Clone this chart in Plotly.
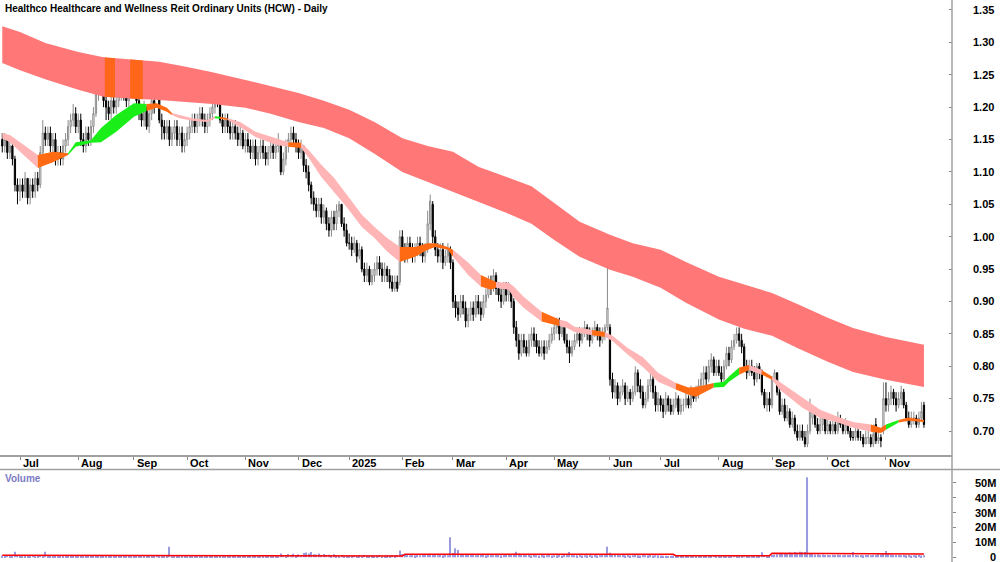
import numpy as np
import pandas as pd
import plotly.graph_objects as go

TITLE = "Healthco Healthcare and Wellness Reit Ordinary Units (HCW) - Daily"
HOLIDAYS = ["2024-12-25", "2024-12-26", "2025-01-01", "2025-01-27",
            "2025-04-18", "2025-04-21", "2025-04-25", "2025-06-09"]
days = pd.bdate_range("2024-06-20", "2025-11-24")
days = days[~days.isin(pd.to_datetime(HOLIDAYS))]

# ---- daily prices in cents ----
OPEN = [
    115,114,115,113,114,112,108,  # Jun 24
    107,108,107,109,106,108,107,109,108,113,116,115,116,114,115,112,113,112,114,115,117,118,119,  # Jul
    117,118,115,114,116,115,117,119,122,124,123,121,120,119,121,120,121,122,123,122,121,123,  # Aug
    123,124,121,119,118,120,117,119,121,124.5,122,118,117,116,117,115,116,117,115,116,114,  # Sep
    115,116,117,118,117,118,119,118,117,118,119,120,122,121,118,117,118,117,116,117,116,115,116,  # Oct
    114,115,114,113,114,112,113,114,113,112,113,114,113,114,114,110,112,114,115,116,115,  # Nov
    114,113,114,111,110,108,106,105,104,105,103,104,102,101,103,102,104,105,102,101,  # Dec
    99,99,98,99,97,98,95,94,95,93,94,95,96,95,94,95,94,93,92,93,93,  # Jan 25
    100,98,97,99,98,97,98,99,98,97,98,102,105,100,98,97,98,96,97,98,  # Feb
    96,90,89,88,90,89,87,88,89,88,90,89,88,90,91,93,92,94,92,91,90,  # Mar
    92,91,92,90,86,84,82,84,83,82,84,85,84,83,82,83,82,83,84,  # Apr
    85,86,87,85,86,84,83,82,83,84,85,84,85,86,85,84,85,86,85,84,85,86,  # May
    86,78,76,77,75,76,77,75,76,75,76,79,77,76,74,75,77,78,76,74,  # Jun
    75,74,73,75,74,73,74,75,73,74,74,75,74,76,75,76,77,78,79,78,80,81,79,  # Jul
    80,79,78,80,82,81,83,84,85,84,83,80,79,80,79,78,80,79,76,74,75,  # Aug
    74,78,79,76,73,74,72,73,71,72,70,69,70,69,68,70,72,73,71,70,71,72,  # Sep
    70,71,70,71,70,72,71,70,71,70,69,69,70,69,69,68,69,69,68,71,68.5,69,70,  # Oct
    75,74,75,76,75,74,75,76,74,72,71,72,72,71,72,74,  # Nov
]
HIGH = [
    116,116,115,115,115,112.5,109,
    109,109,110,109,109,109,110,110,114,118,117,117,117,116,116,114,114,115,116,118,119,120.5,120,
    119,119,116,117,117,118,120,123,126,125,124,122,121,122,122,122,123,124,124,123,124,125,
    125,124.5,122,120,121,120,120,122,122,126.5,122.5,119,118,118,118,117,118,118,117,117,116,
    117,118,119,119,119,120,120,119,119,120,121,123,123,121.5,119,119,119,118,118,118,117,117,116.5,
    116,116,115,115,115,114,115,115,114,114,115,115,115,116,114.5,113,115,116,117,117,116,
    115,115,114,112,111,108.5,107,106,106,106,105,104.5,103,104,104,105,105.5,105,103,102,
    100.5,100,100,99.5,99,98.5,96,96,95.5,95,96,97,97,96,96,95.5,95,94,94,94,101,
    101,99,100,100,99,99,100,100,99,99,104,106.5,105.5,101,99,99,99,98,99,98.5,
    96.5,91,90,91,91,90,89,90,90,91,91,90,91,92,94,94,95,94.5,93,92,93,
    93,93,92.5,90.5,87,85,85,85,84,85,86,86,85,84,84,84,84,85,86,
    87,87.5,87.5,87,86.5,85,84,84,85,86,86,86,87,86.5,86,86,87,86.5,86,86,86.5,96.5,
    86.5,79,78,77.5,77,78,77.5,77,76.5,77,80,79.5,78,77,76,78,79,78.5,77,76,
    75.5,75,76,75.5,75,75,76,75.5,75,75,76,75.5,77,76.5,77,78,79,80,80,81,82,81.5,81,
    81,80,81,83,83,84,85,86,86,85,83.5,81,81,81,80,80.5,80.5,79.5,76.5,76,76,
    78.5,79.5,79,76.5,75,75,74,73.5,73,72.5,71,71,71,70,71,75,74,73.5,72,72,73,72.5,
    72,71.5,72,71.5,73,72.5,71.5,72,71.5,70.5,70,71,70.5,70,69.5,70,70,69.5,71,72,70,69.5,77.5,
    77.5,76,77,76.5,76,76,77,76.5,74.5,73,73,73,72.5,73,74.5,74.5,
]
LOW = [
    113,113,112,112,111,107,105,
    105.5,106,106,105,105,106,106,107,107.5,112,114,114,113,113,111,111,111,111,113,114,116,117,116,
    116,114,113,113,114,114,116,118.5,121,122,120,118,118,118,119,119,120,121,121,120,120,122,
    122,120,118,117,117,116.5,116,118,119,123,117.5,115,115,115,114,114,115,114,114,113,113,
    114,115,116,116,116,117,117,116,116,117,118,119,120,117.5,116,116,116,115,115,115,114,114,113.5,
    113,113,112,112,111,111,112,112,111,111,112,112,112,113,109.5,109.5,111,113,114,114,113,
    112,112,110,109,107,105,104,103,103,102,102,101,100,100,101,101,103,101.5,100,98.5,
    98,97,97.5,96,96.5,94.5,93,93,92.5,92.5,93,94,94,93,93,93,92,91.5,91.5,91.5,92.5,
    97,96,96,97,96,96,97,97,96,96,97.5,101,99,97,96,96,95,95.5,96,95,
    89,87.5,87,87.5,88,86,86,87,87,87.5,88,87,87.5,89,90.5,91,91.5,91,90,89,89.5,
    90,90,89,85,83,81,81.5,82,81.5,81.5,83,83,82,81.5,81.5,81,82,82.5,83.5,
    84,85,84,84.5,83.5,82,80.5,81.5,82.5,83.5,83,83.5,84.5,84,83,83.5,84.5,84,83,83.5,84,85.5,
    77,75,75,74,74.5,75.5,74,74.5,74,74.5,75.5,76,75,73.5,73.5,74.5,76,75,73,73,
    73,72,72.5,73,72.5,72.5,73.5,72.5,72.5,73,73.5,73.5,73.5,74.5,74.5,75,76,77,77,77.5,79,78.5,78.5,
    78.5,77,77.5,79.5,80,80.5,82.5,83.5,83,82,79.5,78,78.5,78.5,77,77.5,78,75.5,73.5,73,73,
    73.5,77.5,75.5,72.5,72.5,71.5,71.5,70.5,70.5,69.5,68.5,68.5,68.5,67.5,67.5,69.5,71,70.5,69.5,69.5,70,69.5,
    69.5,69.5,69.5,69.5,69.5,70.5,69.5,69.5,69.5,68.5,68.5,68.5,68.5,68.5,67.5,68,68,67.5,67.5,68,68,67.5,69.5,
    73,73,74,74,73,73.5,74,73.5,71.5,70.5,70.5,71,70.5,70.5,71.5,70.5,
]
CLOSE = [
    114,115,113,114,112,108,107,
    108,107,109,106,108,107,109,108,113,116,115,116,114,115,112,113,112,114,115,117,118,119,117,
    118,115,114,116,115,117,119,122,124,123,121,120,119,121,120,121,122,123,122,121,123,124,
    124,121,119,118,120,117,119,121,120,123.5,118,117,116,117,115,116,117,115,116,114,115,
    116,117,118,117,118,119,118,117,118,119,120,122,121,118,117,118,117,116,117,116,115,116,114,
    115,114,113,114,112,113,114,113,112,113,114,113,114,115,110,112,114,115,116,115,114,
    113,114,111,110,108,106,105,104,105,103,104,102,101,103,102,104,105,102,101,99,
    99,98,99,97,98,95,94,95,93,94,95,96,95,94,95,94,93,92,93,92,100,
    98,97,99,98,97,98,99,98,97,98,102,105.5,100,98,97,98,96,97,98,96,
    90,89,88,90,89,87,88,89,88,90,89,88,90,91,93,92,94,92,91,90,92,
    91,92,90,86,84,82,84,83,82,84,85,84,83,82,83,82,83,84,85,
    86,87,85,86,84,83,82,83,84,85,84,85,86,85,84,85,86,85,84,85,86,89,
    78,76,77,75,76,77,75,76,75,76,79,77,76,74,75,77,78,76,74,75,
    74,73,75,74,73,74,75,73,74,74,75,74,76,75,76,77,78,79,78,80,81,79,80,
    79,78,80,82,81,83,84,85,84,83,80,79,80,79,78,80,79,76,74,75,74,
    78,79,76,73,74,72,73,71,72,70,69,70,69,68,70,73,73,71,70,71,72,70,
    71,70,71,70,72,71,70,71,70,69,69,70,69,69,68,69,69,68,69.5,68.5,69,68.5,75,
    74,75,76,75,74,75,76,74,72,71,72,72,71,72,73,71,
]
# ---- daily volume, millions ----
VOLUME = [
    1.2,0.9,1.4,1.0,1.1,3.8,1.5,
    1.3,1.0,1.2,0.9,1.1,1.4,1.0,1.2,1.6,1.3,3.8,1.0,1.2,0.9,1.1,1.3,1.0,1.2,1.2,1.1,0.9,1.0,1.3,
    0.8,1.0,0.9,1.1,0.8,0.9,1.2,1.0,0.8,0.9,1.1,0.7,0.9,1.0,0.8,1.2,0.9,1.0,0.8,1.1,0.9,1.0,
    1.0,0.9,1.2,0.8,1.0,1.1,0.9,1.3,1.0,1.4,1.2,0.9,1.1,1.0,7.1,1.3,1.0,0.9,1.1,0.8,1.0,
    1.1,0.9,1.0,1.2,0.8,1.0,0.9,1.1,1.0,0.8,1.2,1.3,1.0,1.1,0.9,1.0,0.8,1.1,0.9,1.0,1.2,0.9,1.0,
    1.0,1.2,0.9,1.1,1.3,1.0,0.9,1.1,1.0,1.2,0.9,1.0,1.1,1.3,2.6,1.4,1.2,2.2,1.5,2.4,1.3,
    2.0,1.6,2.8,3.2,2.5,3.5,2.1,1.8,2.6,1.4,2.2,1.5,1.7,1.3,2.0,1.2,1.0,1.6,1.3,1.1,
    1.2,1.0,1.4,1.1,1.3,1.0,1.5,1.2,1.1,1.3,1.0,1.2,1.4,1.1,1.0,1.3,1.2,1.5,1.3,1.6,4.5,
    2.2,1.5,1.8,1.4,1.6,1.3,1.5,1.4,1.7,1.5,2.0,2.4,1.9,1.6,1.4,1.5,1.3,1.6,1.4,13.4,
    2.8,6.0,4.9,2.0,1.6,1.8,1.5,2.2,1.7,1.4,1.6,1.9,1.5,1.3,1.8,1.6,1.4,1.7,1.5,1.3,1.6,
    1.5,1.7,1.9,2.4,3.8,2.6,1.8,1.6,1.4,1.5,1.3,1.6,1.4,1.2,1.5,1.3,1.4,1.6,1.2,
    1.4,1.3,1.6,1.2,1.5,1.8,3.6,1.7,1.4,1.3,1.5,1.2,1.4,1.3,1.6,1.2,1.5,1.3,1.4,1.6,1.8,7.1,
    3.0,2.2,1.8,1.5,1.4,1.6,1.3,1.5,1.2,1.4,1.7,1.3,1.2,1.5,1.4,1.3,1.6,1.2,1.4,1.3,
    1.2,1.0,1.1,0.9,1.0,1.2,0.8,1.1,0.9,1.0,1.1,0.9,1.2,1.0,0.8,1.1,1.3,1.0,1.2,0.9,1.1,1.4,1.0,
    1.1,0.9,1.2,1.3,1.0,1.1,1.5,1.2,1.0,1.3,1.6,1.2,1.1,1.0,1.2,0.9,1.1,3.4,1.6,1.3,1.2,
    1.6,1.8,2.0,2.2,2.7,2.4,2.9,3.2,2.8,3.5,3.0,3.8,3.3,3.6,53.6,2.7,2.2,1.9,2.0,1.7,1.8,1.5,
    1.6,1.4,1.7,1.5,1.8,1.6,1.4,1.7,1.5,1.6,3.6,1.5,1.4,1.6,1.3,1.5,1.7,1.4,1.6,1.5,2.0,1.8,2.6,
    4.2,2.4,1.8,1.6,1.5,1.7,1.4,1.6,1.3,1.5,1.2,1.4,1.3,1.5,1.2,1.4,
]
VOLMA_DATES = ["2024-06-20", "2024-08-01", "2024-08-02", "2025-02-03", "2025-02-04", "2025-07-08",
               "2025-07-09", "2025-08-29", "2025-09-01", "2025-11-12", "2025-11-13", "2025-11-24"]
VOLMA = [1.3, 1.3, 0.9, 0.9, 2.0, 2.0, 1.1, 1.1, 2.7, 2.7, 2.2, 2.2]

# ---- long-term band (upper / lower) ----
LONG_DATES = ["2024-06-20", "2024-07-01", "2024-07-15", "2024-08-01", "2024-08-15", "2024-09-02",
              "2024-09-16", "2024-10-01", "2024-10-15", "2024-11-01", "2024-11-15", "2024-12-02",
              "2024-12-16", "2025-01-02", "2025-01-16", "2025-02-03", "2025-02-17", "2025-03-03",
              "2025-03-17", "2025-04-01", "2025-04-15", "2025-05-01", "2025-05-15", "2025-06-02",
              "2025-06-16", "2025-07-01", "2025-07-15", "2025-08-01", "2025-08-15", "2025-09-01",
              "2025-09-15", "2025-10-01", "2025-10-15", "2025-11-03", "2025-11-24"]
LONG_UPPER = [1.325, 1.316, 1.299, 1.285, 1.277, 1.273, 1.270, 1.262, 1.254, 1.242, 1.233, 1.222,
              1.210, 1.196, 1.177, 1.152, 1.140, 1.131, 1.108, 1.092, 1.078, 1.052, 1.023, 1.003,
              0.990, 0.980, 0.961, 0.938, 0.926, 0.913, 0.896, 0.875, 0.859, 0.845, 0.833]
LONG_LOWER = [1.268, 1.257, 1.243, 1.227, 1.216, 1.213, 1.211, 1.208, 1.205, 1.199, 1.190, 1.177,
              1.168, 1.152, 1.128, 1.100, 1.085, 1.070, 1.054, 1.037, 1.020, 0.995, 0.969, 0.949,
              0.938, 0.921, 0.898, 0.872, 0.858, 0.847, 0.828, 0.807, 0.791, 0.779, 0.768]
LONG_HILITE = [("2024-08-16", "2024-08-21"), ("2024-08-30", "2024-09-05")]

# ---- short-term band (upper / lower / colour of following stretch) ----
SHORT_DATES = [
    "2024-06-20", "2024-06-25", "2024-07-01", "2024-07-10", "2024-07-18", "2024-07-26", "2024-07-31",
    "2024-08-08", "2024-08-14", "2024-08-22", "2024-09-02", "2024-09-09", "2024-09-13", "2024-09-19",
    "2024-09-23", "2024-09-26", "2024-10-03", "2024-10-11", "2024-10-16", "2024-10-18", "2024-10-23",
    "2024-10-30", "2024-11-07", "2024-11-19", "2024-11-26", "2024-12-03", "2024-12-06", "2024-12-13",
    "2024-12-20", "2024-12-31", "2025-01-09", "2025-01-16", "2025-01-23", "2025-01-31", "2025-02-10",
    "2025-02-17", "2025-02-20", "2025-02-27", "2025-03-03", "2025-03-11", "2025-03-18", "2025-03-24",
    "2025-03-26", "2025-04-02", "2025-04-04", "2025-04-10", "2025-04-23", "2025-05-05", "2025-05-08",
    "2025-05-13", "2025-05-22", "2025-05-29", "2025-06-03", "2025-06-12", "2025-06-20", "2025-06-30",
    "2025-07-09", "2025-07-16", "2025-07-21", "2025-07-30", "2025-08-05", "2025-08-07", "2025-08-13",
    "2025-08-19", "2025-08-26", "2025-09-01", "2025-09-04", "2025-09-17", "2025-09-26", "2025-10-07",
    "2025-10-15", "2025-10-24", "2025-10-30", "2025-11-03", "2025-11-10", "2025-11-14", "2025-11-24"]
SHORT_UPPER = [
    1.160, 1.157, 1.146, 1.126, 1.131, 1.129, 1.146, 1.149, 1.168, 1.188, 1.206, 1.205, 1.206, 1.199,
    1.191, 1.188, 1.183, 1.180, 1.186, 1.185, 1.183, 1.177, 1.162, 1.152, 1.146, 1.145, 1.134, 1.111,
    1.091, 1.065, 1.034, 1.015, 0.998, 0.984, 0.984, 0.990, 0.990, 0.984, 0.980, 0.960, 0.941, 0.933,
    0.930, 0.929, 0.923, 0.907, 0.884, 0.872, 0.869, 0.861, 0.856, 0.853, 0.847, 0.828, 0.814, 0.790,
    0.774, 0.767, 0.768, 0.774, 0.776, 0.784, 0.798, 0.802, 0.794, 0.784, 0.776, 0.751, 0.733, 0.722,
    0.714, 0.710, 0.705, 0.710, 0.717, 0.721, 0.717]
SHORT_LOWER = [
    1.152, 1.146, 1.131, 1.106, 1.115, 1.126, 1.139, 1.145, 1.146, 1.162, 1.185, 1.194, 1.199, 1.193,
    1.188, 1.183, 1.179, 1.177, 1.183, 1.182, 1.180, 1.169, 1.154, 1.142, 1.139, 1.137, 1.122, 1.092,
    1.069, 1.046, 1.015, 0.998, 0.977, 0.961, 0.969, 0.980, 0.984, 0.980, 0.969, 0.941, 0.923, 0.918,
    0.921, 0.918, 0.906, 0.890, 0.869, 0.862, 0.859, 0.853, 0.848, 0.845, 0.839, 0.818, 0.799, 0.776,
    0.764, 0.756, 0.753, 0.767, 0.768, 0.776, 0.787, 0.794, 0.787, 0.779, 0.764, 0.736, 0.720, 0.713,
    0.705, 0.699, 0.697, 0.702, 0.713, 0.716, 0.714]
SHORT_STATE = list(
    "PPPOOGGGGGGOOOPPPPGOPPPPOPPPPPPPPOOOOOPPOOPPPPOPPPOPPPPPOOOGGGOPOPPPPPPOOGOO")

MONTH_LABELS = ["Jul", "Aug", "Sep", "Oct", "Nov", "Dec", "2025", "Feb", "Mar", "Apr",
                "May", "Jun", "Jul", "Aug", "Sep", "Oct", "Nov"]
PRICE_TICKS = [0.70, 0.75, 0.80, 0.85, 0.90, 0.95, 1.00, 1.05, 1.10, 1.15, 1.20, 1.25, 1.30, 1.35]
VOL_TICKS = [0, 10, 20, 30, 40, 50]

# ---------------------------------------------------------------------------
n = min(len(days), len(OPEN), len(HIGH), len(LOW), len(CLOSE), len(VOLUME))
xs = np.arange(n)


def idx(d):
    return int(days.searchsorted(pd.Timestamp(d)))


C_LONG = "#ff7777"
C_HI = "#ff6619"
COLORS = {"P": "#ffb5b5", "O": "#ff6a13", "G": "#19ee19"}
FONT = "Liberation Sans"

fig = go.Figure()


def poly(xa, up, lo, color):
    fig.add_trace(go.Scatter(x=list(xa) + list(xa)[::-1], y=list(up) + list(lo)[::-1],
                             fill="toself", fillcolor=color, line=dict(width=0),
                             mode="lines", hoverinfo="skip", xaxis="x", yaxis="y"))


lx = [idx(d) for d in LONG_DATES]
poly(lx, LONG_UPPER, LONG_LOWER, C_LONG)
for a, b in LONG_HILITE:
    hx = [idx(a) - 0.5, idx(b) + 0.5]
    poly(hx, np.interp(hx, lx, LONG_UPPER), np.interp(hx, lx, LONG_LOWER), C_HI)

sx = [idx(d) for d in SHORT_DATES]
k = 0
while k < len(sx) - 1:
    st = SHORT_STATE[k]
    j = k
    while j < len(sx) - 1 and SHORT_STATE[j] == st:
        j += 1
    poly(sx[k:j + 1], SHORT_UPPER[k:j + 1], SHORT_LOWER[k:j + 1], COLORS[st])
    k = j

fig.add_trace(go.Candlestick(
    x=xs, open=np.array(OPEN[:n]) / 100, high=np.array(HIGH[:n]) / 100,
    low=np.array(LOW[:n]) / 100, close=np.array(CLOSE[:n]) / 100,
    increasing=dict(line=dict(color="#8c8c8c", width=1), fillcolor="#ffffff"),
    decreasing=dict(line=dict(color="#000000", width=1), fillcolor="#000000"),
    whiskerwidth=0, xaxis="x", yaxis="y", hoverinfo="skip"))

fig.add_trace(go.Bar(x=xs, y=np.array(VOLUME[:n]) * 1e6, width=0.45,
                     marker=dict(color="#9a9ae0", line=dict(width=0)),
                     xaxis="x2", yaxis="y2", hoverinfo="skip"))
fig.add_trace(go.Scatter(x=[idx(d) for d in VOLMA_DATES], y=np.array(VOLMA) * 1e6,
                         mode="lines", line=dict(color="#ff0000", width=1.5),
                         xaxis="x2", yaxis="y2", hoverinfo="skip"))

H = 562.0


def py(pix):
    return (H - pix) / H


XR = [-0.9, 375.08]
XD = [0, 0.952]
month_starts = []
prev = None
for i, d in enumerate(days[:n]):
    key = (d.year, d.month)
    if prev is not None and key != prev:
        month_starts.append(i)
    prev = key

annotations = [
    dict(text=TITLE, x=0.003, y=py(8.5), xref="paper", yref="paper", xanchor="left",
         yanchor="middle", showarrow=False,
         font=dict(family=FONT, size=10, color="#000", weight="bold")),
    dict(text="Volume", x=0.003, y=py(478), xref="paper", yref="paper", xanchor="left",
         yanchor="middle", showarrow=False,
         font=dict(family=FONT, size=10, color="#7b7bc4", weight="bold")),
]
for m, lab in zip(month_starts, MONTH_LABELS):
    annotations.append(dict(text=lab, x=m, y=py(463), xref="x", yref="paper", xanchor="left",
                            yanchor="middle", xshift=1, showarrow=False,
                            font=dict(family=FONT, size=11, color="#000", weight="bold")))
for v in VOL_TICKS:
    annotations.append(dict(text=(f"{v}M" if v else "0"), x=0.998, y=v * 1e6, xref="paper",
                            yref="y2", xanchor="right", yanchor="middle", showarrow=False,
                            font=dict(family=FONT, size=11, color="#000", weight="bold")))

LINE = "#a0a0a0"
shapes = [
    dict(type="line", xref="paper", yref="paper", x0=0.952, x1=0.952, y0=0, y1=1,
         line=dict(color=LINE, width=1.5)),
    dict(type="line", xref="paper", yref="paper", x0=0, x1=1, y0=py(469.5), y1=py(469.5),
         line=dict(color=LINE, width=1.5)),
]

fig.update_layout(
    width=1000, height=562, margin=dict(l=0, r=0, t=0, b=0), autosize=False,
    paper_bgcolor="white", plot_bgcolor="white", showlegend=False,
    xaxis=dict(domain=XD, range=XR, anchor="y", showgrid=False, zeroline=False,
               tickvals=month_starts, ticks="outside", ticklen=3, tickcolor="#888",
               showticklabels=False, showline=True, linecolor=LINE, linewidth=1.5,
               rangeslider=dict(visible=False), fixedrange=True),
    yaxis=dict(domain=[py(455), 1], range=[0.66296, 1.36543], side="right", anchor="x",
               showgrid=False, zeroline=False, tickvals=PRICE_TICKS, tickformat=".2f",
               ticks="inside", ticklen=3, tickcolor="#888", ticklabelstandoff=20,
               tickfont=dict(family=FONT, size=11, color="#000", weight="bold")),
    xaxis2=dict(domain=XD, range=XR, anchor="y2", showgrid=False, zeroline=False,
                showticklabels=False, ticks=""),
    yaxis2=dict(domain=[0, py(470)], range=[-3.15e6, 58.5e6], side="right", anchor="x2",
                showgrid=False, zeroline=False, tickvals=[v * 1e6 for v in VOL_TICKS],
                ticks="outside", ticklen=3, tickcolor="#888", showticklabels=False),
    shapes=shapes, annotations=annotations,
)

fig.write_html("out.html")
